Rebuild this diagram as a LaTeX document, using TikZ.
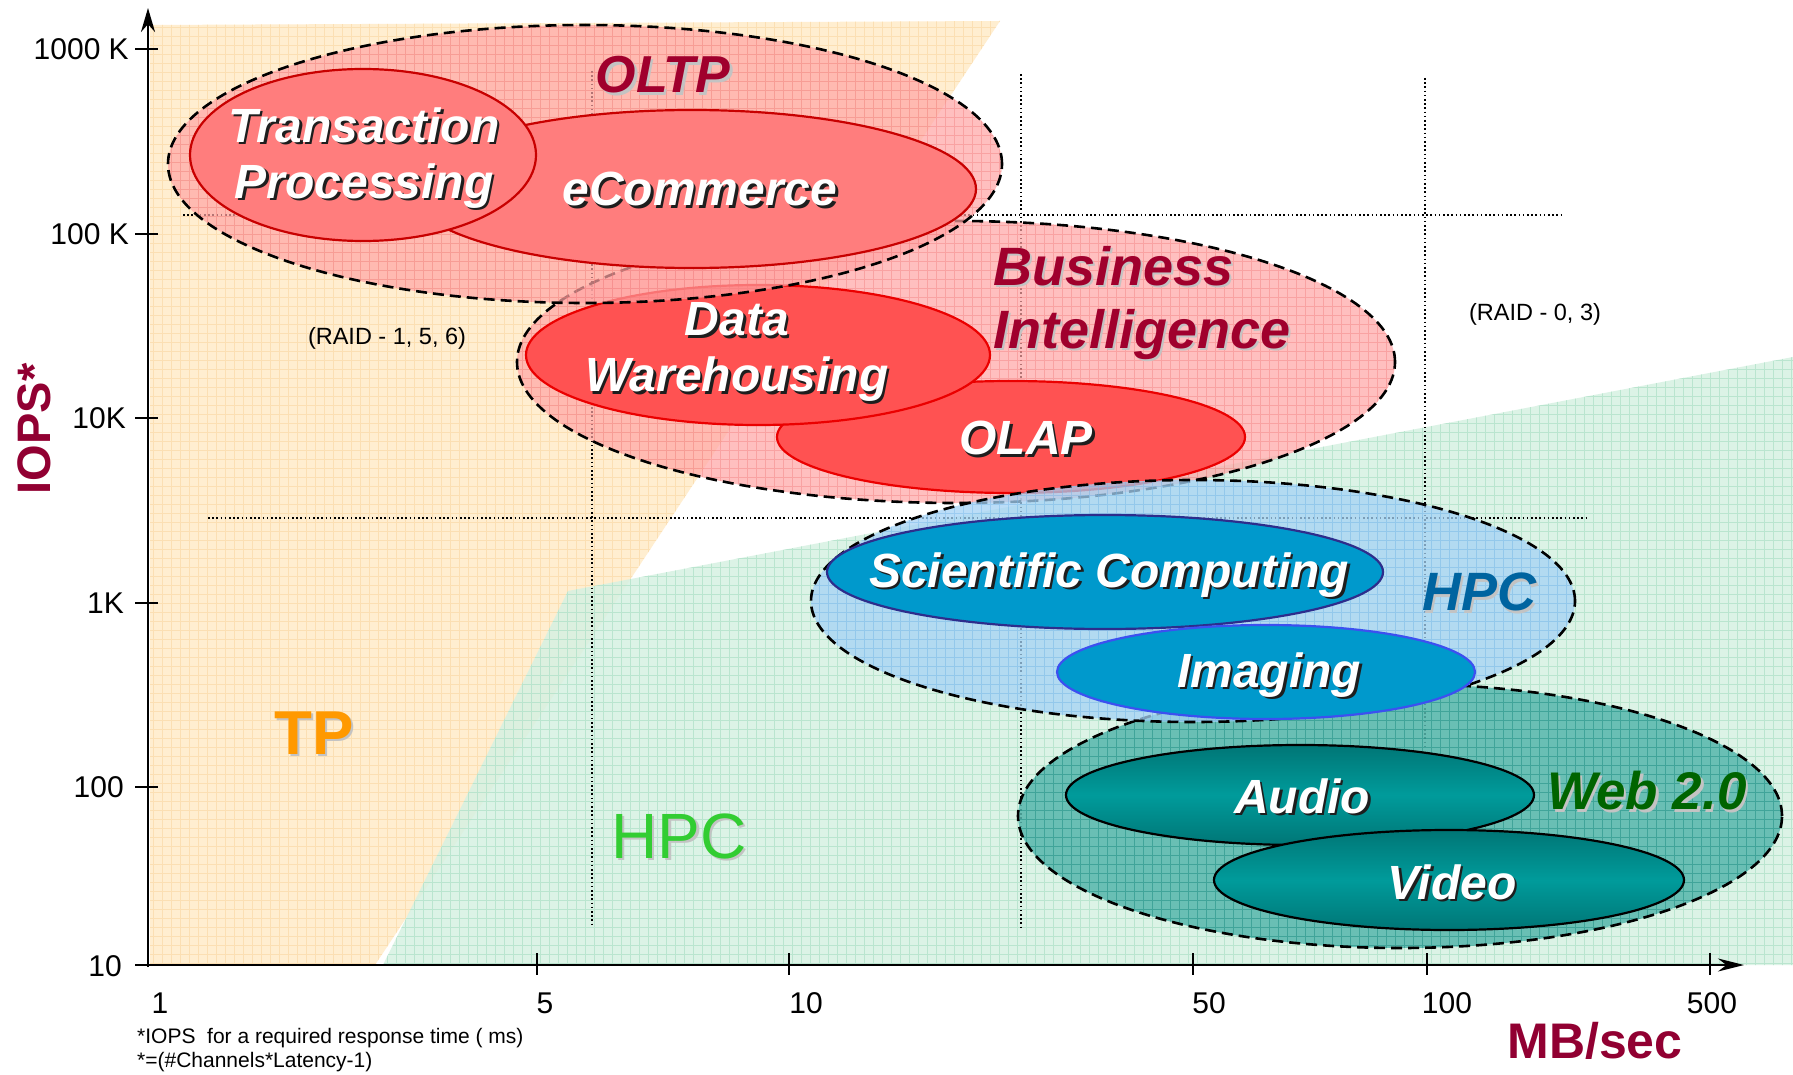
\documentclass[tikz,border=0pt]{standalone}
\usepackage{fontspec}
\setmainfont{Liberation Sans}
\usetikzlibrary{arrows.meta}
\definecolor{tpbg}{RGB}{255,238,208}
\definecolor{tpgrid}{RGB}{250,218,168}
\definecolor{hpcbg}{RGB}{214,241,226}
\definecolor{hpcgrid}{RGB}{178,226,202}
\definecolor{pinkgrp}{RGB}{255,165,165}
\definecolor{pinkgridc}{RGB}{240,120,120}
\definecolor{bluegrp}{RGB}{165,210,245}
\definecolor{bluegridc}{RGB}{120,185,235}
\definecolor{tealgrp}{RGB}{85,182,172}
\definecolor{tealgridc}{RGB}{30,140,130}
\definecolor{salmon}{RGB}{255,125,125}
\definecolor{salmonline}{RGB}{200,0,0}
\definecolor{redfill}{RGB}{255,82,82}
\definecolor{redline}{RGB}{235,0,0}
\definecolor{cyanfill}{RGB}{0,153,204}
\definecolor{navyline}{RGB}{45,45,140}
\definecolor{brightblue}{RGB}{60,80,240}
\definecolor{tealdark}{RGB}{0,118,118}
\definecolor{tealmid}{RGB}{0,155,155}
\definecolor{wine}{RGB}{160,0,45}
\definecolor{axiswine}{RGB}{145,0,50}
\definecolor{hpcblue}{RGB}{0,100,160}
\definecolor{webgreen}{RGB}{0,100,0}
\definecolor{tporange}{RGB}{255,153,0}
\definecolor{hpcgreen}{RGB}{50,205,50}
\definecolor{lightshadow}{RGB}{195,195,195}
\definecolor{darkshadow}{RGB}{30,30,30}
\newcommand{\shadowtext}[6]{%
  \node[#3, text=#5] (#1-s) at ([shift={(2.5,2.5)}]#2) {#6};
  \node[#3, text=#4] (#1) at (#2) {#6};}
\newcommand{\groupell}[6]{%
  \fill[#5] (#1,#2) ellipse [x radius=#3pt, y radius=#4pt];
  \begin{scope}
    \clip (#1,#2) ellipse [x radius=#3pt, y radius=#4pt];
    \draw[#6] (0,0) grid (1793,1075);
  \end{scope}}
\begin{document}
\begin{tikzpicture}[x=1pt,y=-1pt,
  axisline/.style={line width=2.6pt},
  tickline/.style={line width=2.2pt},
  guide/.style={line width=1.8pt, dash pattern=on 1.6pt off 2.6pt},
  grp/.style={draw=black, line width=2.6pt, dash pattern=on 11pt off 6pt},
  ticklabel/.style={font=\fontsize{30}{36}\selectfont, inner sep=0pt},
  note/.style={font=\fontsize{23.5}{28}\selectfont, inner sep=0pt},
  foot/.style={font=\fontsize{21}{25}\selectfont, inner sep=0pt, anchor=west},
  bigw/.style={font=\fontsize{48}{56}\selectfont\bfseries\itshape, align=center, inner sep=0pt},
  bigc/.style={font=\fontsize{54}{63}\selectfont\bfseries\itshape, align=left, inner sep=0pt},
  gridA/.style={draw=tpgrid, line width=0.8pt, step=9pt},
  gridB/.style={draw=hpcgrid, line width=0.8pt, step=9pt},
  gridP/.style={draw=pinkgridc, draw opacity=0.4, line width=0.8pt, step=9pt},
  gridL/.style={draw=bluegridc, draw opacity=0.45, line width=0.8pt, step=9pt},
  gridT/.style={draw=tealgridc, draw opacity=0.5, line width=0.8pt, step=9pt},
  fillP/.style={fill=pinkgrp, fill opacity=0.7},
  fillL/.style={fill=bluegrp, fill opacity=0.75},
  fillT/.style={fill=tealgrp, fill opacity=0.85},
  ellA/.style={fill=salmon, draw=salmonline, line width=2.2pt},
  ellB/.style={fill=redfill, draw=redline, line width=2.2pt},
  ellC/.style={fill=cyanfill, draw=navyline, line width=2.2pt},
  ellD/.style={fill=cyanfill, draw=brightblue, line width=2.2pt},
  ellE/.style={top color=tealdark, bottom color=tealdark, middle color=tealmid, draw=black, line width=2.2pt},
]
\useasboundingbox (0,0) rectangle (1793,1075);
\fill[white] (0,0) rectangle (1793,1075);

% ---------- background regions ----------
\fill[tpbg] (150,25) -- (1000,21) -- (375,965) -- (150,965) -- cycle;
\begin{scope}
  \clip (150,25) -- (1000,21) -- (375,965) -- (150,965) -- cycle;
  \draw[gridA, draw opacity=0.7] (0,0) grid (1793,1075);
\end{scope}
\fill[hpcbg, fill opacity=0.85] (383,965) -- (568,591) -- (1793,357) -- (1793,965) -- cycle;
\begin{scope}
  \clip (383,965) -- (568,591) -- (1793,357) -- (1793,965) -- cycle;
  \draw[gridB, draw opacity=0.8] (0,0) grid (1793,1075);
\end{scope}

% ---------- guide lines ----------
\draw[guide] (183,215) -- (1561,215);
\draw[guide] (208,518) -- (1587,518);
\draw[guide] (592,71) -- (592,924);
\draw[guide] (1021,74) -- (1021,928);
\draw[guide] (1425,78) -- (1425,749);

% ---------- Business Intelligence ----------
\groupell{956}{362}{439}{141}{fillP}{gridP}
\draw[grp] (956,362) ellipse [x radius=439pt, y radius=141pt];
\draw[ellB] (1011,437) ellipse [x radius=234pt, y radius=56pt];
\draw[ellB] (758,355) ellipse [x radius=232pt, y radius=70pt];

% ---------- OLTP ----------
\groupell{585}{164}{417}{139}{fillP}{gridP}
\draw[grp] (585,164) ellipse [x radius=417pt, y radius=139pt];
\draw[ellA] (692,189) ellipse [x radius=284pt, y radius=79pt];
\draw[ellA] (363,155) ellipse [x radius=173pt, y radius=86pt];

% ---------- Web 2.0 ----------
\groupell{1400}{816}{382}{132}{fillT}{gridT}
\draw[grp] (1400,816) ellipse [x radius=382pt, y radius=132pt];
\draw[ellE] (1300,795) ellipse [x radius=234pt, y radius=50pt];
\draw[ellE] (1449,880) ellipse [x radius=235pt, y radius=50pt];

% ---------- HPC ----------
\groupell{1193}{601}{382}{121}{fillL}{gridL}
\draw[grp] (1193,601) ellipse [x radius=382pt, y radius=121pt];
\draw[ellC] (1105,572) ellipse [x radius=278pt, y radius=57pt];
\draw[ellD] (1266,672) ellipse [x radius=209pt, y radius=47pt];

% ---------- axes ----------
\draw[axisline, -{Stealth[length=24pt,width=14pt]}] (148,967) -- (148,8);
\draw[axisline, -{Stealth[length=26pt,width=13pt]}] (140,965) -- (1744,965);
\foreach \yy in {49,234,418,603,787,965} \draw[tickline] (135,\yy) -- (158,\yy);
\foreach \xx in {537,789,1193,1427,1710} \draw[tickline] (\xx,953) -- (\xx,975);

\node[ticklabel, anchor=east] (y1000k) at (129,49) {1000 K};
\node[ticklabel, anchor=east] (y100k) at (129,234) {100 K};
\node[ticklabel, anchor=east] (y10k) at (126,418) {10K};
\node[ticklabel, anchor=east] (y1k) at (124,603) {1K};
\node[ticklabel, anchor=east] (y100) at (124,787) {100};
\node[ticklabel, anchor=east] (y10) at (122,966) {10};

\node[ticklabel] (x1) at (160,1003) {1};
\node[ticklabel] (x5) at (545,1003) {5};
\node[ticklabel] (x10) at (806,1003) {10};
\node[ticklabel] (x50) at (1209,1003) {50};
\node[ticklabel] (x100) at (1447,1003) {100};
\node[ticklabel] (x500) at (1712,1003) {500};

\node[font=\fontsize{47}{52}\selectfont\bfseries, text=axiswine, rotate=90, inner sep=0pt] (iops) at (34,429) {IOPS*};
\node[font=\fontsize{50}{56}\selectfont\bfseries, text=axiswine, inner sep=0pt] (mbsec) at (1595,1041) {MB/sec};

\node[foot] (foot1) at (137,1038) {*IOPS\ \ for a required response time ( ms)};
\node[foot] (foot2) at (137,1062) {*=(\#Channels*Latency-1)};

\node[note] (raid156) at (387,338) {(RAID - 1, 5, 6)};
\node[note] (raid03) at (1535,314) {(RAID - 0, 3)};

% ---------- labels ----------
\shadowtext{tp}{314,733}{font=\fontsize{62}{70}\selectfont\bfseries, inner sep=0pt}{tporange}{lightshadow}{TP}
\shadowtext{hpcbg}{679,836}{font=\fontsize{64}{70}\selectfont, inner sep=0pt}{hpcgreen}{lightshadow}{HPC}

\shadowtext{oltp}{663,75}{font=\fontsize{52}{60}\selectfont\bfseries\itshape, inner sep=0pt}{wine}{lightshadow}{OLTP}
\shadowtext{trans}{364,158}{bigw}{white}{darkshadow}{Transaction\\Processing}
\shadowtext{ecom}{700,189}{bigw}{white}{darkshadow}{eCommerce}

\shadowtext{bi}{993,303}{bigc, anchor=west}{wine}{lightshadow}{Business\\Intelligence}
\shadowtext{dw}{737,352}{bigw}{white}{darkshadow}{Data\\Warehousing}
\shadowtext{olap}{1026,438}{bigw}{white}{darkshadow}{OLAP}

\shadowtext{sci}{1109,575}{bigw, font=\fontsize{48}{56}\selectfont\bfseries\itshape}{white}{darkshadow}{Scientific Computing}
\shadowtext{hpc}{1479,592}{font=\fontsize{54}{60}\selectfont\bfseries\itshape, inner sep=0pt}{hpcblue}{lightshadow}{HPC}
\shadowtext{img}{1269,675}{bigw}{white}{darkshadow}{Imaging}

\shadowtext{audio}{1302,796}{bigw}{white}{darkshadow}{Audio}
\shadowtext{video}{1452,882}{bigw}{white}{darkshadow}{Video}
\shadowtext{web}{1647,791}{font=\fontsize{53}{60}\selectfont\bfseries\itshape, inner sep=0pt}{webgreen}{lightshadow}{Web 2.0}
\end{tikzpicture}
\end{document}
